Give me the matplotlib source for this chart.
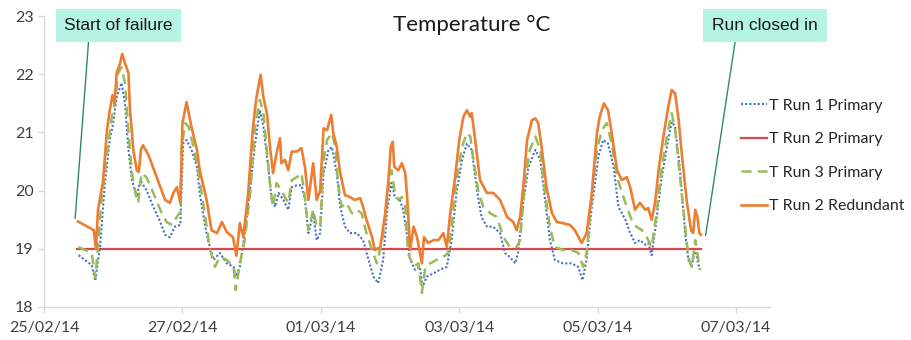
import matplotlib
matplotlib.use("Agg")
import matplotlib.pyplot as plt
from matplotlib.lines import Line2D

# time axis: days since 25/02/14 00:00
tick_days = [0, 2, 4, 6, 8, 10]
tick_labels = ["25/02/14", "27/02/14", "01/03/14", "03/03/14", "05/03/14", "07/03/14"]

# T Run 2 Redundant (orange)
red_d = [0.49, 0.72, 0.75, 0.78, 0.85, 0.91, 0.95, 0.99, 1.02, 1.05, 1.10, 1.13, 1.17, 1.22,
         1.24, 1.29, 1.34, 1.37, 1.40, 1.43, 1.51, 1.60, 1.68, 1.75, 1.82, 1.87, 1.92, 1.97,
         2.00, 2.06, 2.13, 2.21, 2.25, 2.35, 2.42, 2.50, 2.57, 2.64, 2.73, 2.78, 2.83, 2.88,
         2.95, 3.02, 3.07, 3.13, 3.17, 3.22, 3.27, 3.31, 3.36, 3.41, 3.43, 3.48, 3.53, 3.58,
         3.65, 3.72, 3.77, 3.82, 3.89, 3.94, 3.99, 4.04, 4.09, 4.15, 4.18, 4.23, 4.28, 4.35,
         4.42, 4.49, 4.57, 4.61, 4.66, 4.74, 4.78, 4.86, 4.93, 4.98, 5.01, 5.04, 5.06, 5.12,
         5.17, 5.22, 5.25, 5.29, 5.34, 5.39, 5.46, 5.49, 5.55, 5.63, 5.70, 5.77, 5.82, 5.87,
         5.94, 6.00, 6.06, 6.11, 6.16, 6.18, 6.23, 6.30, 6.40, 6.49, 6.59, 6.69, 6.78, 6.83,
         6.88, 6.93, 6.98, 7.05, 7.10, 7.14, 7.19, 7.26, 7.34, 7.41, 7.50, 7.60, 7.67, 7.77,
         7.84, 7.91, 7.99, 8.03, 8.09, 8.15, 8.21, 8.28, 8.35, 8.42, 8.47, 8.54, 8.61, 8.69,
         8.73, 8.78, 8.83, 8.88, 8.95, 9.02, 9.07, 9.12, 9.17, 9.22, 9.29, 9.35, 9.38, 9.41,
         9.44, 9.47, 9.49]
red_t = [19.47, 19.32, 19.00, 19.67, 20.13, 21.04, 21.38, 21.64, 21.50, 22.02, 22.19, 22.35, 22.19, 22.02,
         21.44, 20.70, 20.35, 20.32, 20.70, 20.78, 20.61, 20.32, 20.06, 19.84, 19.79, 19.96, 20.06, 19.79,
         21.16, 21.52, 21.10, 20.70, 20.35, 19.84, 19.32, 19.27, 19.46, 19.29, 19.20, 18.88, 19.44, 19.20,
         19.96, 21.10, 21.60, 21.99, 21.60, 21.33, 20.70, 20.30, 20.64, 20.90, 20.47, 20.53, 20.35, 20.67,
         20.67, 20.73, 20.41, 19.84, 20.47, 19.84, 20.00, 21.07, 21.04, 21.30, 20.99, 20.75, 20.30, 19.92,
         19.89, 19.84, 19.87, 19.72, 19.50, 19.20, 18.98, 19.03, 19.61, 20.23, 20.75, 20.84, 20.41, 20.35,
         20.47, 20.30, 19.84, 18.98, 19.38, 19.20, 18.75, 19.20, 19.10, 19.15, 19.15, 19.27, 19.03, 19.61,
         20.23, 20.87, 21.27, 21.38, 21.27, 21.33, 20.87, 20.18, 19.96, 19.96, 19.84, 19.55, 19.46, 19.32,
         19.55, 20.13, 20.87, 21.21, 21.24, 21.16, 20.75, 20.06, 19.61, 19.46, 19.44, 19.41, 19.32, 19.10,
         19.27, 19.89, 20.99, 21.27, 21.50, 21.38, 20.93, 20.35, 20.18, 20.23, 20.06, 19.67, 19.79, 19.67,
         19.70, 19.50, 19.79, 20.35, 20.93, 21.44, 21.73, 21.67, 21.21, 20.58, 19.79, 19.32, 19.27, 19.67,
         19.55, 19.27, 19.24]

# T Run 3 Primary (green dashed)
run3_d = [0.50, 0.59, 0.69, 0.74, 0.78, 0.83, 0.91, 0.98, 1.03, 1.07, 1.12, 1.17, 1.22, 1.27,
          1.34, 1.36, 1.41, 1.48, 1.58, 1.68, 1.77, 1.85, 1.92, 1.97, 1.99, 2.04, 2.09, 2.16,
          2.25, 2.33, 2.40, 2.47, 2.54, 2.64, 2.74, 2.77, 2.83, 2.90, 2.98, 3.05, 3.12, 3.17,
          3.22, 3.27, 3.31, 3.36, 3.43, 3.48, 3.53, 3.58, 3.65, 3.72, 3.77, 3.82, 3.89, 3.94,
          3.99, 4.04, 4.09, 4.16, 4.21, 4.25, 4.30, 4.37, 4.45, 4.52, 4.59, 4.66, 4.74, 4.81,
          4.88, 4.93, 4.98, 5.02, 5.07, 5.12, 5.17, 5.22, 5.26, 5.34, 5.41, 5.46, 5.51, 5.58,
          5.67, 5.77, 5.84, 5.89, 5.96, 6.04, 6.11, 6.16, 6.20, 6.28, 6.35, 6.45, 6.54, 6.64,
          6.73, 6.83, 6.88, 6.95, 7.02, 7.10, 7.17, 7.24, 7.31, 7.38, 7.50, 7.62, 7.72, 7.79,
          7.84, 7.91, 7.99, 8.06, 8.13, 8.20, 8.28, 8.40, 8.49, 8.56, 8.64, 8.71, 8.78, 8.85,
          8.92, 9.00, 9.07, 9.12, 9.19, 9.26, 9.31, 9.36, 9.41, 9.45, 9.48]
run3_t = [19.03, 18.98, 18.93, 18.50, 19.03, 19.84, 20.64, 21.27, 21.56, 22.02, 22.12, 21.85, 21.04, 20.30,
          19.84, 19.79, 20.30, 20.23, 19.96, 19.67, 19.46, 19.41, 19.55, 19.63, 20.75, 21.16, 21.10, 20.75,
          20.18, 19.55, 18.98, 18.69, 18.86, 18.81, 18.69, 18.29, 18.75, 19.15, 19.96, 21.10, 21.56, 21.33,
          20.70, 20.06, 19.72, 20.13, 20.01, 19.89, 19.79, 20.18, 20.23, 20.30, 19.89, 19.32, 19.67, 19.38,
          19.38, 20.53, 20.87, 20.99, 20.75, 20.13, 19.72, 19.79, 19.61, 19.67, 19.61, 19.27, 18.98, 18.75,
          19.10, 19.50, 20.06, 20.35, 19.96, 19.84, 19.89, 19.72, 18.93, 18.69, 18.75, 18.24, 18.69, 18.75,
          18.81, 18.86, 18.93, 19.38, 20.18, 20.75, 20.99, 20.93, 20.58, 19.96, 19.72, 19.61, 19.55, 19.20,
          19.03, 19.03, 19.15, 20.18, 20.70, 20.93, 20.70, 19.96, 19.38, 19.03, 18.98, 18.98, 18.93, 18.69,
          18.93, 19.84, 20.70, 21.04, 21.16, 20.82, 20.23, 19.79, 19.50, 19.38, 19.32, 19.20, 19.03, 19.61,
          20.35, 20.93, 21.33, 21.04, 20.23, 19.44, 18.86, 18.69, 19.15, 18.86, 18.64]

# T Run 1 Primary (blue dotted)
run1_d = [0.50, 0.59, 0.69, 0.74, 0.81, 0.88, 0.95, 1.00, 1.05, 1.12, 1.17, 1.22, 1.27, 1.34,
          1.39, 1.48, 1.58, 1.68, 1.75, 1.82, 1.89, 1.97, 2.01, 2.06, 2.13, 2.21, 2.25, 2.33,
          2.37, 2.45, 2.54, 2.64, 2.74, 2.77, 2.83, 2.90, 2.98, 3.05, 3.12, 3.17, 3.24, 3.29,
          3.34, 3.39, 3.46, 3.53, 3.58, 3.65, 3.72, 3.77, 3.82, 3.89, 3.94, 3.99, 4.04, 4.11,
          4.16, 4.23, 4.28, 4.35, 4.42, 4.52, 4.61, 4.69, 4.76, 4.83, 4.90, 4.96, 5.02, 5.07,
          5.14, 5.19, 5.24, 5.29, 5.36, 5.43, 5.47, 5.53, 5.63, 5.72, 5.82, 5.89, 5.96, 6.04,
          6.11, 6.18, 6.25, 6.32, 6.40, 6.49, 6.59, 6.66, 6.73, 6.81, 6.85, 6.93, 7.00, 7.10,
          7.17, 7.24, 7.31, 7.38, 7.50, 7.62, 7.72, 7.78, 7.84, 7.91, 8.01, 8.08, 8.15, 8.23,
          8.30, 8.40, 8.47, 8.54, 8.61, 8.69, 8.73, 8.78, 8.85, 8.92, 9.00, 9.07, 9.12, 9.19,
          9.26, 9.31, 9.36, 9.41, 9.45, 9.48]
run1_t = [18.89, 18.81, 18.72, 18.45, 19.03, 20.13, 20.87, 21.16, 21.61, 21.85, 21.50, 20.70, 20.18, 19.89,
          20.18, 20.01, 19.72, 19.46, 19.24, 19.20, 19.38, 19.41, 20.81, 20.87, 20.70, 20.41, 19.96, 19.38,
          19.15, 18.81, 18.93, 18.75, 18.69, 18.52, 18.69, 19.27, 20.06, 20.81, 21.38, 21.10, 20.41, 19.84,
          19.72, 19.96, 19.84, 19.67, 20.06, 20.09, 20.09, 19.84, 19.27, 19.61, 19.15, 19.27, 20.30, 20.70,
          20.75, 20.30, 19.72, 19.38, 19.27, 19.27, 19.15, 18.81, 18.52, 18.41, 18.81, 19.67, 20.13, 19.89,
          19.84, 19.67, 19.27, 18.81, 18.64, 18.69, 18.35, 18.52, 18.58, 18.64, 18.69, 19.15, 19.96, 20.53,
          20.81, 20.70, 20.06, 19.55, 19.38, 19.38, 19.27, 18.93, 18.86, 18.75, 18.93, 19.84, 20.41, 20.70,
          20.53, 19.84, 19.15, 18.81, 18.75, 18.75, 18.69, 18.46, 18.81, 19.67, 20.58, 20.87, 20.81, 20.41,
          19.72, 19.50, 19.27, 19.10, 19.15, 19.07, 19.10, 18.89, 19.50, 20.18, 20.75, 21.18, 21.10, 20.35,
          19.32, 18.81, 18.69, 19.03, 18.75, 18.64]

# T Run 2 Primary (flat set point)
run2_d = [0.48, 9.49]
run2_t = [19.0, 19.0]

labels = ["T Run 1 Primary", "T Run 2 Primary", "T Run 3 Primary", "T Run 2 Redundant"]
colors = ["#4472c4", "#d9474a", "#9bbb59", "#ed7d31"]
styles = [(0, (1, 1)), "-", (0, (4, 2.5)), "-"]
widths = [1.5, 1.6, 1.8, 1.9]

plt.rcParams['font.family'] = ['Lato', 'DejaVu Sans']

fig = plt.figure(figsize=(9.12, 3.40), dpi=100)
ax = fig.add_axes([44/912, 1-307/340, (770-44)/912, (307-16)/340])

series = [(run1_d, run1_t), (run2_d, run2_t), (run3_d, run3_t), (red_d, red_t)]
handles = []
for (d, t), c, ls, lw in zip(series, colors, styles, widths):
    ln, = ax.plot(d, t, color=c, linestyle=ls, linewidth=lw)
    handles.append(ln)

ax.set_xlim(0, 10.49)
ax.set_ylim(18, 23)
ax.set_xticks(tick_days)
ax.set_xticklabels(tick_labels)
ax.set_yticks([18, 19, 20, 21, 22, 23])
for s in ["top", "right"]:
    ax.spines[s].set_visible(False)
for s in ["left", "bottom"]:
    ax.spines[s].set_color("#d9d9d9")
    ax.spines[s].set_linewidth(1.0)
ax.tick_params(axis="both", colors="#d9d9d9", labelcolor="#404040", labelsize=11.5, length=4, width=1)
ax.tick_params(axis="x", pad=6)

fig.text(472/912, 1-25/340, "Temperature °C", ha="center", va="center", fontsize=16, color="#1a1a1a")

# legend drawn to the right of the plot
fig.legend(handles, labels, loc="center left", bbox_to_anchor=(741/912, 1-156/340),
           frameon=False, fontsize=11.5, handlelength=1.6, handletextpad=0.15,
           labelspacing=1.2, borderpad=0, borderaxespad=0, labelcolor="#262626")

# call-out boxes
box = dict(boxstyle="square,pad=0.5", facecolor="#b5f3e5", edgecolor="none")
ax.annotate("Start of failure", xy=(0.45, 19.52), xytext=(118.5/912, 1-25.5/340),
            textcoords="figure fraction", ha="center", va="center", fontsize=12.5,
            family="Liberation Sans", color="#1a1a1a", bbox=box,
            arrowprops=dict(arrowstyle="-", color="#2e8b6b", lw=1.0, shrinkA=0, shrinkB=0,
                            relpos=(0.23, 0.0)), annotation_clip=False)
ax.annotate("Run closed in", xy=(9.56, 19.23), xytext=(765/912, 1-25.5/340),
            textcoords="figure fraction", ha="center", va="center", fontsize=12.5,
            family="Liberation Sans", color="#1a1a1a", bbox=box,
            arrowprops=dict(arrowstyle="-", color="#2e8b6b", lw=1.0, shrinkA=0, shrinkB=0,
                            relpos=(0.23, 0.0)), annotation_clip=False)

fig.savefig("out.png", dpi=100)
